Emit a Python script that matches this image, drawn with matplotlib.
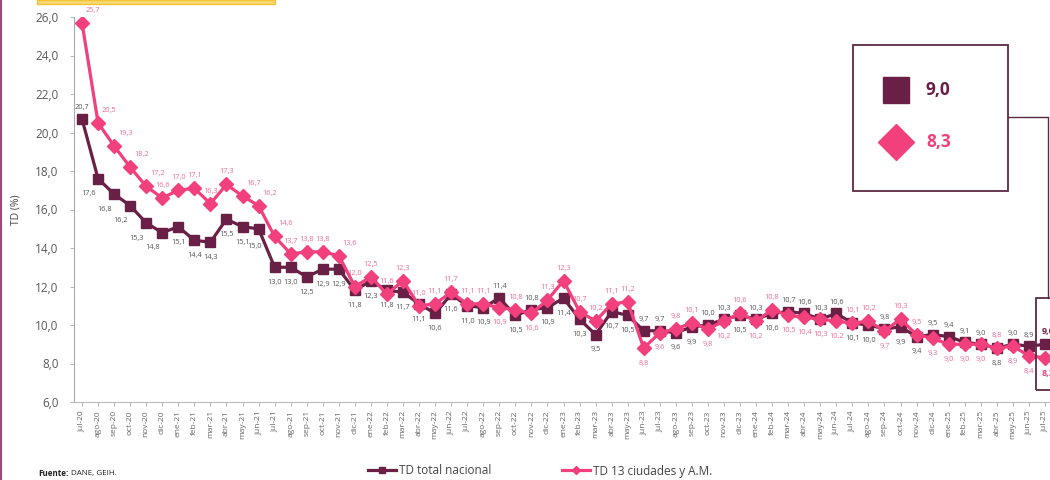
import matplotlib
matplotlib.use("Agg")
import matplotlib.pyplot as plt
from matplotlib.lines import Line2D
from matplotlib.patches import Rectangle

plt.rcParams['font.family'] = ['Open Sans', 'DejaVu Sans']

months = ["jul-20", "ago-20", "sep-20", "oct-20", "nov-20", "dic-20",
          "ene-21", "feb-21", "mar-21", "abr-21", "may-21", "jun-21",
          "jul-21", "ago-21", "sep-21", "oct-21", "nov-21", "dic-21",
          "ene-22", "feb-22", "mar-22", "abr-22", "may-22", "jun-22",
          "jul-22", "ago-22", "sep-22", "oct-22", "nov-22", "dic-22",
          "ene-23", "feb-23", "mar-23", "abr-23", "may-23", "jun-23",
          "jul-23", "ago-23", "sep-23", "oct-23", "nov-23", "dic-23",
          "ene-24", "feb-24", "mar-24", "abr-24", "may-24", "jun-24",
          "jul-24", "ago-24", "sep-24", "oct-24", "nov-24", "dic-24",
          "ene-25", "feb-25", "mar-25", "abr-25", "may-25", "jun-25",
          "jul-25"]

td_nacional = [20.7, 17.6, 16.8, 16.2, 15.3, 14.8,
               15.1, 14.4, 14.3, 15.5, 15.1, 15.0, 13.0, 13.0, 12.5, 12.9, 12.9, 11.8,
               12.3, 11.8, 11.7, 11.1, 10.6, 11.6, 11.0, 10.9, 11.4, 10.5, 10.8, 10.9,
               11.4, 10.3, 9.5, 10.7, 10.5, 9.7, 9.7, 9.6, 9.9, 10.0, 10.3, 10.5,
               10.3, 10.6, 10.7, 10.6, 10.3, 10.6, 10.1, 10.0, 9.8, 9.9, 9.4, 9.5,
               9.4, 9.1, 9.0, 8.8, 9.0, 8.9, 9.0]

td_13 = [25.7, 20.5, 19.3, 18.2, 17.2, 16.6,
         17.0, 17.1, 16.3, 17.3, 16.7, 16.2, 14.6, 13.7, 13.8, 13.8, 13.6, 12.0,
         12.5, 11.6, 12.3, 11.0, 11.1, 11.7, 11.1, 11.1, 10.9, 10.8, 10.6, 11.3,
         12.3, 10.7, 10.2, 11.1, 11.2, 8.8, 9.6, 9.8, 10.1, 9.8, 10.2, 10.6,
         10.2, 10.8, 10.5, 10.4, 10.3, 10.2, 10.1, 10.2, 9.7, 10.3, 9.5, 9.3,
         9.0, 9.0, 9.0, 8.8, 8.9, 8.4, 8.3]

series_names = ["TD total nacional", "TD 13 ciudades y A.M."]

# label placement: 1 above, -1 below
pos_nac = [1, -1, -1, -1, -1, -1,
           -1, -1, -1, -1, -1, -1, -1, -1, -1, -1, -1, -1,
           -1, -1, -1, -1, -1, -1, -1, -1, 1, -1, 1, -1,
           -1, -1, -1, -1, -1, 1, 1, -1, -1, 1, 1, -1,
           1, -1, 1, 1, 1, 1, -1, -1, 1, -1, -1, 1,
           1, 1, 1, -1, 1, 1, 1]
pos_13 = [1, 1, 1, 1, 1, 1,
          1, 1, 1, 1, 1, 1, 1, 1, 1, 1, 1, 1,
          1, 1, 1, 1, 1, 1, 1, 1, -1, 1, -1, 1,
          1, 1, 1, 1, 1, -1, -1, 1, 1, -1, -1, 1,
          -1, 1, -1, -1, -1, -1, 1, 1, -1, 1, 1, -1,
          -1, -1, -1, 1, -1, -1, -1]
shift_right_13 = {0, 1, 2, 3, 4, 10, 11, 12, 16}
shift_left_nac = {1, 2, 3, 4, 5}

DARK = "#6A1F47"
PINK = "#F2407C"
PINK_TXT = "#EF6A98"
GREY_TXT = "#555555"

W, H = 1050, 480
fig = plt.figure(figsize=(W / 100, H / 100), dpi=100)
ax = fig.add_axes([74 / W, 78 / H, 979 / W, 385 / H])

x = list(range(len(months)))
ax.plot(x, td_nacional, color=DARK, lw=2.3, marker="s", ms=7.5, mfc=DARK, mec=DARK, zorder=3)
ax.plot(x, td_13, color=PINK, lw=2.3, marker="D", ms=7.5, mfc=PINK, mec=PINK, zorder=4)

def fmt(v):
    return f"{v:.1f}".replace(".", ",")

for i, v in enumerate(td_nacional):
    if i == len(td_nacional) - 1:
        continue
    dy = 8 if pos_nac[i] > 0 else -11
    dx = -7 if i in shift_left_nac else 0
    if i == 11:
        dx, dy = -3, -13
    ax.annotate(fmt(v), (i, v), xytext=(dx, dy), textcoords="offset points",
                ha="center", va="center", fontsize=5.3, color=GREY_TXT, zorder=5)
for i, v in enumerate(td_13):
    if i == len(td_13) - 1:
        continue
    dy = 9 if pos_13[i] > 0 else -11
    dx = 8 if i in shift_right_13 else 0
    ax.annotate(fmt(v), (i, v), xytext=(dx, dy), textcoords="offset points",
                ha="center", va="center", fontsize=5.3, color=PINK_TXT, zorder=5)

# last values (bold, partially cropped at right edge)
ax.annotate(fmt(td_nacional[-1]), (len(td_nacional) - 1, td_nacional[-1]), xytext=(2, 9),
            textcoords="offset points", ha="center", va="center", fontsize=6.5,
            fontweight="bold", color=DARK, zorder=5)
ax.annotate(fmt(td_13[-1]), (len(td_13) - 1, td_13[-1]), xytext=(2, -11),
            textcoords="offset points", ha="center", va="center", fontsize=6.5,
            fontweight="bold", color=PINK, zorder=5)

ax.set_xlim(-0.5, len(months) - 0.5)
ax.set_ylim(6, 26)
ax.set_yticks([6, 8, 10, 12, 14, 16, 18, 20, 22, 24, 26])
ax.set_yticklabels([fmt(t) for t in ax.get_yticks()], fontsize=8.5, color="#595959")
ax.set_xticks(x)
ax.set_xticklabels(months, rotation=90, fontsize=6, color="#666666")
ax.tick_params(axis="x", length=3, color="#bbbbbb", pad=3)
ax.tick_params(axis="y", length=3, color="#bbbbbb", pad=8)
for s in ["top", "right"]:
    ax.spines[s].set_visible(False)
ax.spines["left"].set_color("#aaaaaa")
ax.spines["bottom"].set_color("#bbbbbb")
ax.spines["left"].set_linewidth(0.8)
ax.spines["bottom"].set_linewidth(0.8)
ax.set_ylabel("TD (%)", fontsize=7.5, color="#444444", labelpad=10)

# legend
handles = [Line2D([], [], color=DARK, lw=2.3, marker="s", ms=4),
           Line2D([], [], color=PINK, lw=2.3, marker="D", ms=4)]
fig.legend(handles, series_names, loc="center", bbox_to_anchor=(540 / W, 1 - 471 / H),
           ncol=2, frameon=False, fontsize=8.5, handlelength=2.4, handletextpad=0.2,
           columnspacing=6.0, labelcolor="#444444")

# source
t1 = fig.text(38 / W, 1 - 473 / H, "Fuente:", fontsize=5.8, fontweight="bold",
              color="#222222", va="center")
ax.annotate("DANE, GEIH.", xy=(1, 0.5), xycoords=t1, xytext=(2, 0), textcoords="offset points",
            fontsize=5.8, color="#222222", va="center", ha="left", annotation_clip=False)

def fx(px):
    return px / W

def fy(py):
    return 1 - py / H

# top yellow bar (cropped title box)
fig.add_artist(Rectangle((fx(37), fy(4)), fx(275) - fx(37), 4 / H, transform=fig.transFigure,
                         facecolor="#F7D87A", edgecolor="#F4C430", lw=1.0))
# left border
fig.add_artist(Line2D([fx(1), fx(1)], [0, 1], transform=fig.transFigure, color="#9C4A7C", lw=1.5))

# inset box
fig.add_artist(Rectangle((fx(853), fy(191)), fx(1008) - fx(853), 146 / H, transform=fig.transFigure,
                         facecolor="white", edgecolor="#5A2A45", lw=1.3, zorder=10))
fig.add_artist(Line2D([fx(896)], [fy(90)], transform=fig.transFigure, marker="s", ms=19,
                      color=DARK, mec=DARK, ls="none", zorder=11))
fig.add_artist(Line2D([fx(896)], [fy(142)], transform=fig.transFigure, marker="D", ms=18,
                      color=PINK, mec=PINK, ls="none", zorder=11))
fig.text(fx(926), fy(90), fmt(td_nacional[-1]), fontsize=12.5, fontweight="bold", color=DARK,
         va="center", ha="left", zorder=12)
fig.text(fx(926), fy(142), fmt(td_13[-1]), fontsize=12.5, fontweight="bold", color=PINK,
         va="center", ha="left", zorder=12)
# connector
fig.add_artist(Line2D([fx(1008), fx(1048), fx(1048)], [fy(117), fy(117), fy(298)],
                      transform=fig.transFigure, color="#5A2A45", lw=1.0, zorder=10))
# small box around last points
fig.add_artist(Rectangle((fx(1036), fy(390)), fx(1060) - fx(1036), 92 / H, transform=fig.transFigure,
                         facecolor="none", edgecolor="#5A2A45", lw=1.3, zorder=10))

fig.savefig("out.png", dpi=100)
